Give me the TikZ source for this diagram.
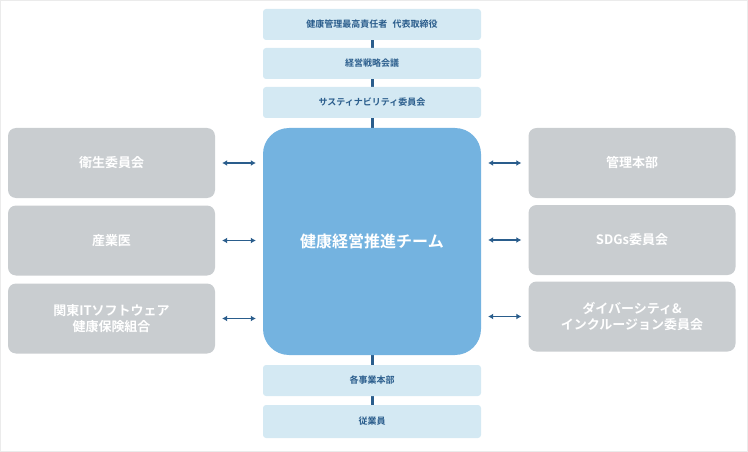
\documentclass[tikz,border=0pt]{standalone}
\usepackage{fontspec}
\newfontfamily\jpfont{Noto Sans CJK JP}[BoldFont={* Bold}]
\usetikzlibrary{arrows.meta}
\definecolor{paleblue}{HTML}{D4E9F3}
\definecolor{midblue}{HTML}{74B3E0}
\definecolor{navy}{HTML}{2A5D8C}
\definecolor{greybox}{HTML}{C9CDD0}
\begin{document}
\begin{tikzpicture}[x=1pt,y=-1pt,
  layer/.style={fill=paleblue,rounded corners=3pt,minimum width=218pt,minimum height=31pt,
    inner sep=0pt,text=navy,font=\jpfont\bfseries\fontsize{9}{11}\selectfont},
  party/.style={fill=greybox,rounded corners=8pt,minimum width=207pt,minimum height=70pt,
    inner sep=0pt,text=white,align=center,font=\jpfont\bfseries\fontsize{13}{16}\selectfont},
  link/.style={navy,line width=1.6pt,shorten >=7pt,shorten <=7pt,{Latex[length=5pt,width=6pt]}-{Latex[length=5pt,width=6pt]}}]
  \useasboundingbox (0,0) rectangle (748,452);
  \draw[black!8] (0.5,0.5) rectangle (747.5,451.5);

  % center column
  \draw[navy,line width=3pt] (372,30) -- (372,430);
  \node[layer] (ceo) at (372,24.5) {健康管理最高責任者\hspace{0.6em}代表取締役};
  \node[layer] (strategy) at (372,63.5) {経営戦略会議};
  \node[layer] (sustain) at (372,102.5) {サスティナビリティ委員会};
  \node[fill=midblue,rounded corners=26pt,minimum width=218pt,minimum height=227pt,
    text=white,font=\jpfont\bfseries\fontsize{16}{19}\selectfont] (team) at (372,241.5) {健康経営推進チーム};
  \node[layer] (division) at (372,380.5) {各事業本部};
  \node[layer,minimum height=33pt] (staff) at (372,421.5) {従業員};

  % left side
  \node[party] (hygiene) at (111.5,163) {衛生委員会};
  \node[party] (doctor) at (111.5,240.5) {産業医};
  \node[party] (union) at (111.5,318.5) {関東ITソフトウェア\\健康保険組合};
  % right side
  \node[party] (admin) at (632,163) {管理本部};
  \node[party] (sdgs) at (632,240) {SDGs委員会};
  \node[party] (dei) at (632,316.5) {ダイバーシティ\&\\インクルージョン委員会};

  \foreach \n in {hygiene,doctor,union}
    \draw[link] (\n.east) -- (team.west |- \n.east);
  \foreach \n in {admin,sdgs,dei}
    \draw[link] (team.east |- \n.west) -- (\n.west);
\end{tikzpicture}
\end{document}
